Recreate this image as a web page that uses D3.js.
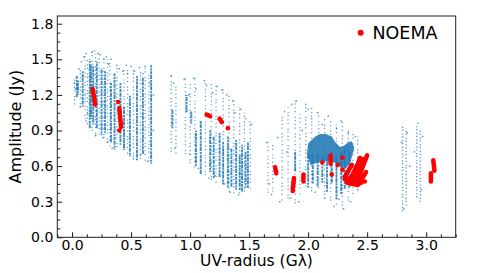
<!DOCTYPE html>
<html><head><meta charset="utf-8">
<script src="https://cdn.jsdelivr.net/npm/d3@7"></script>
<style>body{margin:0;background:#fff}svg{display:block}text{font-family:"DejaVu Sans",sans-serif}</style>
</head><body>
<svg id="c" width="480" height="273"></svg>
<script>
// ---- data (uv-radius in Gλ, amplitude in Jy) ----
const xTicks = [0.0, 0.5, 1.0, 1.5, 2.0, 2.5, 3.0];
const yTicks = [0.0, 0.3, 0.6, 0.9, 1.2, 1.5, 1.8];
const legendLabel = "NOEMA";
// dense columns of visibilities: [uv, ampLow, ampHigh]
const blueDenseBands = [
  [0.04,1.18,1.36],[0.05,1.20,1.32],[0.09,1.10,1.40],[0.15,0.92,1.50],[0.16,1.00,1.45],[0.18,0.95,1.45],
  [0.21,0.92,1.48],[0.25,0.86,1.42],[0.28,0.88,1.40],[0.33,0.80,1.30],[0.36,0.74,1.38],[0.41,0.78,1.30],
  [0.44,0.75,1.10],[0.49,0.68,1.20],[0.55,0.65,1.36],[0.60,0.70,1.35],[0.67,0.62,1.45],
  [0.85,0.92,1.08],[0.97,1.05,1.20],[1.01,0.96,1.06],[1.05,0.60,0.90],[1.09,0.53,0.98],[1.17,0.55,0.90],
  [1.20,0.50,0.85],[1.25,0.50,0.88],[1.28,0.45,0.80],[1.32,0.42,0.85],[1.35,0.42,0.75],[1.39,0.40,0.82],
  [1.42,0.40,0.70],[1.44,0.38,0.78],[1.47,0.42,0.72],[1.49,0.42,0.80],
  [1.89,0.55,0.72],[2.00,0.42,0.70],[2.04,0.45,0.70],[2.08,0.42,0.70],[2.12,0.46,0.68],[2.16,0.38,0.70],
  [2.20,0.45,0.72],[2.24,0.32,0.68],[2.28,0.36,0.72],[2.31,0.40,0.75],[2.35,0.42,0.72]
];
// sparse columns of visibilities: [uv, ampLow, ampHigh]
const blueSparseBands = [
  [0.02,1.12,1.33],[0.07,1.08,1.45],[0.11,1.00,1.55],[0.13,0.95,1.50],[0.17,0.88,1.57],[0.20,0.85,1.55],
  [0.23,0.86,1.54],[0.27,0.82,1.52],[0.30,0.80,1.50],[0.32,0.76,1.48],[0.38,0.74,1.45],[0.44,0.74,1.42],
  [0.47,0.70,1.42],[0.52,0.66,1.44],[0.58,0.66,1.42],[0.62,0.64,1.44],[0.65,0.62,1.40],
  [0.84,0.72,1.38],[0.88,0.70,1.30],[0.96,0.68,1.34],[1.00,0.62,1.30],[1.04,0.58,1.34],[1.13,0.50,1.30],
  [1.18,0.48,1.32],[1.22,0.45,1.28],[1.28,0.42,1.25],[1.33,0.38,1.22],[1.37,0.36,1.18],[1.42,0.35,1.10],
  [1.46,0.38,1.05],[1.51,0.40,0.98],
  [1.66,0.35,0.82],[1.70,0.38,0.78],[1.78,0.30,1.05],[1.83,0.30,1.10],[1.89,0.28,1.15],[1.93,0.35,1.05],
  [1.98,0.40,1.12],[2.03,0.38,1.10],[2.09,0.40,1.05],[2.14,0.33,1.00],[2.19,0.30,1.00],[2.24,0.26,0.95],
  [2.29,0.24,0.98],[2.34,0.30,0.90],[2.38,0.35,0.88],[2.42,0.40,0.85]
];
// far-baseline columns (tighter stipple): [uv, ampLow, ampHigh]
const blueFarBands = [[2.80,0.22,0.95],[2.83,0.26,0.92],[2.92,0.32,0.96],[2.95,0.30,0.90]];
// dense cloud outline near 2 Gλ: [uv, amp]
const blueBlob = [[1.99,0.70],[2.00,0.79],[2.03,0.82],[2.06,0.85],[2.10,0.87],[2.15,0.87],[2.20,0.85],
  [2.23,0.80],[2.27,0.76],[2.30,0.77],[2.34,0.80],[2.37,0.81],[2.39,0.75],[2.36,0.64],[2.32,0.58],
  [2.27,0.60],[2.22,0.63],[2.15,0.64],[2.08,0.63],[2.02,0.61]];
// isolated visibilities: [uv, amp]
const blueDots = [
  [0.02,1.30],[0.03,1.25],[0.06,1.42],[0.07,1.10],[0.08,1.48],[0.09,1.36],[0.10,1.52],[0.11,1.20],[0.12,1.55],
  [0.13,1.05],[0.12,0.98],[0.17,1.56],[0.19,1.57],[0.20,0.86],[0.22,1.55],[0.24,1.54],[0.26,0.84],[0.27,1.50],
  [0.29,1.52],[0.30,0.80],[0.31,1.46],[0.33,1.50],[0.34,0.75],[0.38,1.45],[0.40,1.42],[0.43,1.40],[0.44,0.74],
  [0.46,1.45],[0.47,1.38],[0.50,1.44],[0.52,0.66],[0.53,1.40],[0.57,1.43],[0.58,0.70],[0.60,1.38],[0.62,1.44],
  [0.64,0.64],[0.66,1.30],[0.69,1.20],[0.69,0.90],
  [0.84,1.36],[0.86,1.30],[0.87,0.75],[0.95,1.33],[0.99,1.20],[1.00,0.70],[1.03,1.34],[1.05,1.25],[1.07,0.58],
  [1.12,1.32],[1.14,1.28],[1.16,0.50],[1.19,1.22],[1.21,0.52],[1.23,1.27],[1.27,1.24],[1.29,0.45],[1.31,1.20],
  [1.34,0.38],[1.36,1.15],[1.38,1.05],[1.41,0.36],[1.43,1.08],[1.47,1.00],[1.49,0.42],[1.52,0.95],
  [1.65,0.80],[1.67,0.45],[1.69,0.36],[1.74,0.84],[1.76,0.30],[1.80,1.06],[1.82,0.72],[1.85,0.33],[1.86,1.12],
  [1.90,1.15],[1.92,0.30],[1.95,0.90],[1.98,1.12],[2.00,1.08],[2.03,1.00],[2.06,0.38],[2.08,1.05],[2.12,0.95],
  [2.14,0.33],[2.17,1.02],[2.22,0.26],[2.24,0.92],[2.26,0.32],[2.28,0.98],[2.30,0.24],[2.34,0.88],[2.36,0.30],
  [2.40,0.85],[2.42,0.40],
  [2.79,0.80],[2.81,0.24],[2.84,0.88],[2.86,0.60],[2.90,0.72],[2.93,0.96],[2.96,0.40],[2.97,0.85]
];
// NOEMA tracks: [uv0, amp0, uv1, amp1]
const noemaTracks = [
  [0.175,1.25,0.195,1.12],[0.40,1.09,0.415,0.93],[1.14,1.035,1.17,1.02],[1.25,1.00,1.27,0.97],
  [1.72,0.59,1.73,0.54],[1.88,0.50,1.87,0.41],[1.96,0.53,1.96,0.47],[2.19,0.69,2.19,0.62],
  [2.41,0.46,2.50,0.69],[2.37,0.48,2.44,0.67],[2.31,0.51,2.37,0.61],[2.31,0.49,2.45,0.46],
  [2.39,0.47,2.47,0.66],[2.35,0.47,2.41,0.60],[2.43,0.45,2.49,0.55],[2.33,0.46,2.42,0.44],
  [3.06,0.65,3.07,0.56],[3.04,0.54,3.04,0.47]
];
// NOEMA isolated points: [uv, amp]
const noemaDots = [[0.39,1.14],[0.40,0.90],[1.32,0.92],[2.12,0.63],[2.20,0.53],[2.25,0.61],
  [2.29,0.67],[2.29,0.57],[2.33,0.50],[2.48,0.47],[1.87,0.39]];

// ---- layout ----
const svg = d3.select("#c");
const L = 57.3, R = 455.7, T = 16, B = 237.3;
const x = d3.scaleLinear().domain([-0.125, 3.25]).range([L, R]);
const y = d3.scaleLinear().domain([0, 1.865]).range([B, T]);
const blue = "#1f77b4", red = "#ff0000";

function columns(data, width, dash, opacity) {
  return plot.append("g").selectAll("line").data(data).join("line")
    .attr("x1", d => x(d[0])).attr("x2", d => x(d[0]))
    .attr("y1", d => y(d[1])).attr("y2", d => y(d[2]))
    .attr("stroke", blue).attr("stroke-width", width).attr("stroke-opacity", opacity)
    .attr("stroke-dasharray", dash).attr("stroke-dashoffset", (d, i) => (i * 2.3) % 7);
}
const plot = svg.append("g");
columns(blueSparseBands, 1.2, "1.2,3,1.2,1.8,1.2,4.5,1.2,2.4", 0.75);
columns(blueFarBands, 1.3, "1.2,1.7,1.2,2.6", 0.8);
plot.append("path").datum(blueBlob)
  .attr("d", d3.line().x(d => x(d[0])).y(d => y(d[1])).curve(d3.curveLinearClosed))
  .attr("fill", blue).attr("fill-opacity", 0.88);
columns(blueDenseBands, 1.9, "3,0.8,2,1,4,0.6", 0.85);
plot.append("g").selectAll("rect").data(blueDots).join("rect")
  .attr("x", d => x(d[0]) - 0.7).attr("y", d => y(d[1]) - 0.7)
  .attr("width", 1.4).attr("height", 1.4).attr("fill", blue).attr("fill-opacity", 0.8);
plot.append("g").selectAll("line").data(noemaTracks).join("line")
  .attr("x1", d => x(d[0])).attr("y1", d => y(d[1]))
  .attr("x2", d => x(d[2])).attr("y2", d => y(d[3]))
  .attr("stroke", red).attr("stroke-width", 4.5).attr("stroke-linecap", "round");
plot.append("g").selectAll("circle").data(noemaDots).join("circle")
  .attr("cx", d => x(d[0])).attr("cy", d => y(d[1])).attr("r", 2.3).attr("fill", red);

// ---- axes ----
const fmt = d3.format(".1f");
const xMinor = d3.range(-0.125, 3.26, 0.125).filter(v => Math.abs(v / 0.5 - Math.round(v / 0.5)) > 1e-6);
const yMinor = d3.range(0, 1.866, 0.075).filter(v => Math.abs(v / 0.3 - Math.round(v / 0.3)) > 1e-6);

const gx = svg.append("g").attr("transform", `translate(0,${B})`)
  .call(d3.axisBottom(x).tickValues(xTicks).tickFormat(fmt).tickSizeInner(-5).tickSizeOuter(0).tickPadding(3));
const gxm = svg.append("g").attr("transform", `translate(0,${B})`)
  .call(d3.axisBottom(x).tickValues(xMinor).tickFormat("").tickSizeInner(-3).tickSizeOuter(0));
const gy = svg.append("g").attr("transform", `translate(${L},0)`)
  .call(d3.axisLeft(y).tickValues(yTicks).tickFormat(fmt).tickSizeInner(-5).tickSizeOuter(0).tickPadding(4));
const gym = svg.append("g").attr("transform", `translate(${L},0)`)
  .call(d3.axisLeft(y).tickValues(yMinor).tickFormat("").tickSizeInner(-3).tickSizeOuter(0));
[gx, gxm, gy, gym].forEach(g => {
  g.select(".domain").remove();
  g.selectAll("line").attr("stroke", "#000").attr("stroke-width", 0.9);
  g.selectAll("text").attr("font-size", 14).attr("fill", "#000").attr("font-family", "DejaVu Sans");
});

svg.append("rect").attr("x", L).attr("y", T).attr("width", R - L).attr("height", B - T)
  .attr("fill", "none").attr("stroke", "#222").attr("stroke-width", 1);

svg.append("text").attr("x", (L + R) / 2).attr("y", 266).attr("text-anchor", "middle")
  .attr("font-size", 15.5).text("UV-radius (G\u03bb)");
svg.append("text").attr("transform", `translate(21,${(T + B) / 2}) rotate(-90)`)
  .attr("text-anchor", "middle").attr("font-size", 16).text("Amplitude (Jy)");

// ---- legend ----
svg.append("circle").attr("cx", 360.7).attr("cy", 32.7).attr("r", 3).attr("fill", red);
svg.append("text").attr("x", 372.5).attr("y", 39).attr("font-size", 17.5).text(legendLabel);
</script>
</body></html>
